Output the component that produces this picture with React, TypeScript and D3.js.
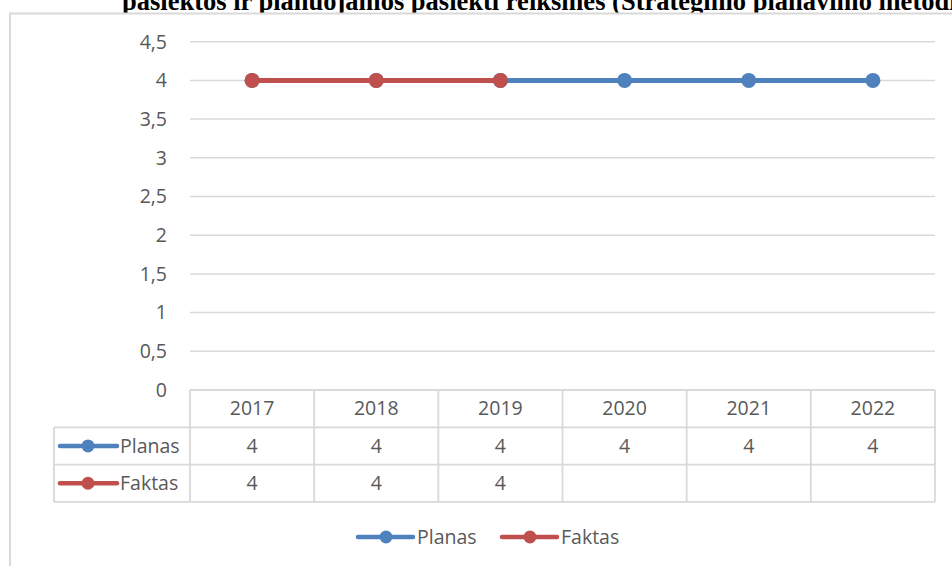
import React from 'react';
import * as d3 from 'd3';

const years = ['2017', '2018', '2019', '2020', '2021', '2022'];
const planas: (number | null)[] = [4, 4, 4, 4, 4, 4];
const faktas: (number | null)[] = [4, 4, 4, null, null, null];
const yTicks = [0, 0.5, 1, 1.5, 2, 2.5, 3, 3.5, 4, 4.5];
const seriesNames = ['Planas', 'Faktas'];
const seriesColors = ['#4f81bd', '#c0504d'];
const title = 'pasiektos ir planuojamos pasiekti reikšmės (Strateginio planavimo metodika)';

const W = 952;
const H = 566;
const FONT = '"Open Sans", "Liberation Sans", sans-serif';
const TXT = '#595959';
const GRID = '#d9d9d9';

export default function App() {
  const x = d3.scaleBand<string>().domain(years).range([190, 935]).paddingInner(0).paddingOuter(0);
  const y = d3.scaleLinear().domain([0, 4.5]).range([390, 41.7]);
  const cx = (yr: string) => (x(yr) as number) + x.bandwidth() / 2;
  const fmt = (v: number) => String(v).replace('.', ',');

  const series = [planas, faktas];
  const line = d3
    .line<number | null>()
    .defined((d) => d !== null)
    .x((_, i) => cx(years[i]))
    .y((d) => y(d as number));

  const rowTop = 390;
  const rowH = 37.3;
  const legCol = 54;
  const bands = years.map((yr) => x(yr) as number).concat([935]);

  return (
    <svg width={W} height={H} style={{ position: 'absolute', left: 0, top: 0, display: 'block', background: '#fff' }}>
      <text x={122} y={10} fontFamily='"Liberation Serif", "Times New Roman", serif' fontWeight="bold" fontSize={26.5} fill="#000">
        {title}
      </text>
      <rect x={10} y={13.5} width={1000} height={600} fill="#fff" stroke={GRID} strokeWidth={2} />

      {yTicks.map((t) => (
        <g key={t}>
          {t > 0 && <line x1={190} x2={935} y1={y(t)} y2={y(t)} stroke={GRID} strokeWidth={1.5} />}
          <text x={167} y={y(t)} dy="0.35em" textAnchor="end" fontFamily={FONT} fontSize={19.5} fill={TXT}>
            {fmt(t)}
          </text>
        </g>
      ))}

      {/* data table */}
      <g stroke={GRID} strokeWidth={1.8} fill="none">
        <line x1={190} x2={935} y1={rowTop} y2={rowTop} />
        {[1, 2, 3].map((r) => (
          <line key={r} x1={legCol} x2={935} y1={rowTop + r * rowH} y2={rowTop + r * rowH} />
        ))}
        <line x1={legCol} x2={legCol} y1={rowTop + rowH} y2={rowTop + 3 * rowH} />
        {bands.map((bx, i) => (
          <line key={i} x1={bx} x2={bx} y1={rowTop} y2={rowTop + 3 * rowH} />
        ))}
      </g>
      {years.map((yr) => (
        <text key={yr} x={cx(yr)} y={rowTop + rowH / 2} dy="0.35em" textAnchor="middle" fontFamily={FONT} fontSize={19.5} fill={TXT}>
          {yr}
        </text>
      ))}
      {series.map((s, si) => (
        <g key={si}>
          <line x1={60} x2={117} y1={rowTop + rowH * (si + 1.5)} y2={rowTop + rowH * (si + 1.5)} stroke={seriesColors[si]} strokeWidth={4.5} strokeLinecap="round" />
          <circle cx={88} cy={rowTop + rowH * (si + 1.5)} r={6.5} fill={seriesColors[si]} />
          <text x={120} y={rowTop + rowH * (si + 1.5)} dy="0.35em" fontFamily={FONT} fontSize={19.5} fill={TXT}>
            {seriesNames[si]}
          </text>
          {s.map((v, i) =>
            v === null ? null : (
              <text key={i} x={cx(years[i])} y={rowTop + rowH * (si + 1.5)} dy="0.35em" textAnchor="middle" fontFamily={FONT} fontSize={19.5} fill={TXT}>
                {fmt(v)}
              </text>
            )
          )}
        </g>
      ))}

      {/* series */}
      {series.map((s, si) => (
        <g key={si}>
          <path d={line(s) || ''} fill="none" stroke={seriesColors[si]} strokeWidth={5} strokeLinejoin="round" strokeLinecap="round" />
          {s.map((v, i) =>
            v === null ? null : <circle key={i} cx={cx(years[i])} cy={y(v)} r={7.5} fill={seriesColors[si]} />
          )}
        </g>
      ))}

      {/* legend */}
      {seriesNames.map((n, i) => {
        const lx = 358 + i * 144;
        return (
          <g key={n}>
            <line x1={lx} x2={lx + 55} y1={537} y2={537} stroke={seriesColors[i]} strokeWidth={4.5} strokeLinecap="round" />
            <circle cx={lx + 28} cy={537} r={6.5} fill={seriesColors[i]} />
            <text x={lx + 59} y={537} dy="0.35em" fontFamily={FONT} fontSize={19.5} fill={TXT}>
              {n}
            </text>
          </g>
        );
      })}
    </svg>
  );
}
